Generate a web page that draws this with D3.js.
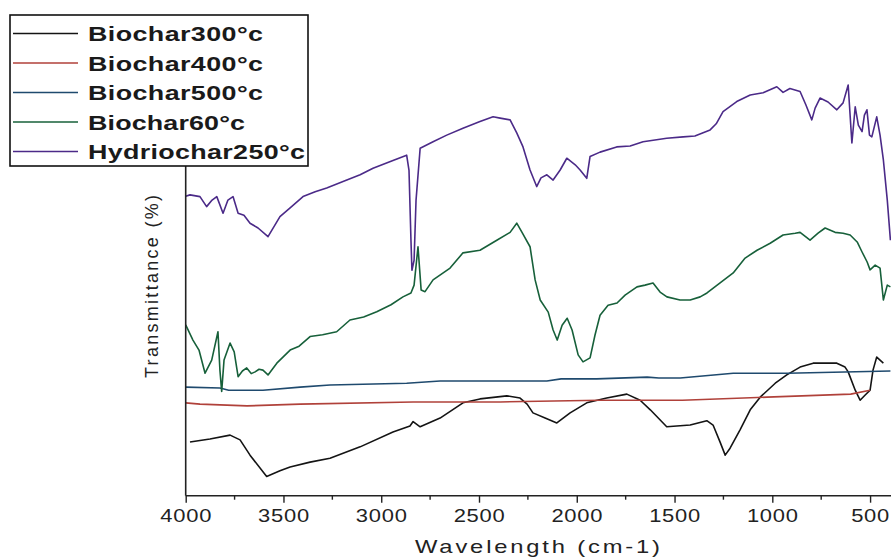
<!DOCTYPE html>
<html>
<head>
<meta charset="utf-8">
<script src="https://cdn.jsdelivr.net/npm/d3@7"></script>
<style>
  body { margin: 0; background: #fff; }
  svg { display: block; font-family: "Liberation Sans", Arial, sans-serif; }
</style>
</head>
<body>
<svg id="chart" width="891" height="560"></svg>
<script>
// FTIR spectra, wavenumber (cm-1) vs transmittance (arbitrary %, offset per series)
const seriesNames = ["Biochar300\u00b0c", "Biochar400\u00b0c", "Biochar500\u00b0c", "Biochar60\u00b0c", "Hydriochar250\u00b0c"];
const seriesColors = ["#141414", "#b0413a", "#1f4a6e", "#17603a", "#4b2a88"];

const biochar300 = [
  [3978,12.3],[3876,13.0],[3773,13.9],[3722,12.8],[3671,9.3],[3586,4.4],[3518,5.7],[3466,6.6],
  [3364,7.7],[3262,8.6],[3108,11.2],[2940,14.6],[2853,16.0],[2837,17.0],[2801,15.8],[2699,17.8],
  [2582,21.3],[2495,22.2],[2358,22.9],[2290,22.4],[2254,21.0],[2224,19.0],[2162,17.8],[2102,16.7],
  [2034,19.0],[1949,21.3],[1847,22.4],[1744,23.3],[1676,21.9],[1624,19.7],[1540,15.8],[1420,16.2],
  [1335,17.2],[1303,16.2],[1267,12.3],[1241,9.3],[1216,10.9],[1165,15.1],[1113,19.7],[1062,22.6],
  [985,25.8],[926,27.7],[858,29.5],[791,30.4],[670,30.4],[628,29.5],[612,28.4],[576,24.2],
  [551,21.9],[525,23.1],[500,24.2],[485,28.8],[466,31.8],[449,31.1],[432,30.4]
];
const biochar400 = [
  [4000,21.3],[3927,21.0],[3686,20.6],[3415,21.0],[2837,21.5],[2392,21.5],[1881,21.9],
  [1460,21.9],[1027,22.6],[599,23.3],[500,24.2]
];
const biochar500 = [
  [4000,24.9],[3825,24.7],[3780,24.2],[3605,24.2],[3415,24.9],[3262,25.4],[2870,25.8],[2699,26.3],
  [2153,26.3],[2080,26.8],[1898,26.8],[1640,27.2],[1580,27.0],[1471,27.0],[1200,28.1],[924,28.1],[396,28.6]
];
const biochar60 = [
  [4000,39.2],[3963,35.7],[3932,33.4],[3901,28.1],[3867,31.1],[3835,37.6],[3825,28.8],[3816,23.9],
  [3804,31.1],[3773,35.0],[3752,33.0],[3732,27.3],[3710,28.6],[3688,29.3],[3665,28.0],[3645,28.4],
  [3625,29.0],[3605,28.8],[3579,27.7],[3534,30.4],[3500,31.9],
  [3466,33.4],[3420,34.3],[3364,36.5],[3300,36.9],[3228,37.6],[3160,40.3],[3090,41.0],[3023,42.2],
  [2950,43.8],[2889,45.6],[2848,46.5],[2832,48.3],
  [2812,57.1],[2796,47.2],[2776,46.8],[2735,49.5],[2648,52.2],[2582,55.7],[2495,56.3],[2409,58.6],
  [2341,60.4],[2307,62.5],[2280,60.4],[2239,57.1],[2213,49.5],[2187,44.9],[2146,42.1],[2121,38.0],
  [2100,35.7],[2075,39.1],[2049,40.7],[2024,38.0],[1993,32.3],[1968,30.7],[1932,31.6],[1907,36.8],
  [1881,41.4],[1840,43.7],[1794,44.2],[1753,46.0],[1692,47.9],[1651,48.3],[1610,48.8],[1574,46.7],
  [1539,45.6],[1472,44.9],[1420,44.9],[1369,45.6],[1334,46.5],[1267,48.8],[1200,51.1],[1139,54.5],
  [1078,56.3],[1011,57.9],[945,59.8],[883,60.2],[858,60.4],[807,58.6],[766,60.2],[730,61.4],
  [679,60.4],[638,60.2],[602,59.8],[566,58.2],[541,55.9],[515,53.6],[500,51.8],[474,52.9],
  [449,52.2],[432,44.9],[412,48.3],[396,47.9]
];
const hydrochar250 = [
  [4000,68.7],[3978,69.0],[3927,68.6],[3893,66.3],[3865,67.8],[3841,68.6],[3809,64.8],[3784,67.8],
  [3758,68.6],[3732,64.8],[3702,64.3],[3671,62.5],[3630,61.4],[3579,59.4],[3518,64.0],[3466,66.0],
  [3400,68.6],[3338,69.7],[3279,70.6],[3176,72.4],[3108,73.6],[3042,75.1],[2940,76.9],[2870,78.1],
  [2858,74.6],[2848,58.6],[2843,51.7],[2832,54.0],[2822,67.8],[2801,79.7],[2735,81.2],[2665,82.7],
  [2582,84.3],[2495,85.8],[2428,86.9],[2392,86.6],[2341,86.2],[2307,83.2],[2275,80.0],[2239,74.7],
  [2205,70.9],[2183,72.9],[2153,73.6],[2121,72.4],[2085,74.7],[2051,77.4],[2008,75.9],[1983,74.7],
  [1949,72.8],[1932,77.8],[1881,78.8],[1796,80.0],[1727,80.2],[1661,81.2],[1540,82.0],[1456,82.3],
  [1396,82.5],[1318,83.9],[1287,85.3],[1252,88.1],[1182,90.4],[1113,91.9],[1047,92.4],[977,93.8],
  [945,92.5],[910,93.4],[858,92.7],[828,89.6],[798,86.2],[781,88.9],[756,91.2],[715,90.3],
  [670,88.5],[638,90.1],[612,94.2],[593,80.9],[576,89.2],[560,85.0],[541,83.5],[529,87.3],
  [516,88.5],[503,82.7],[491,82.3],[466,86.9],[449,82.7],[432,77.0],[412,67.8],[396,58.6]
];
const allSeries = [biochar300, biochar400, biochar500, biochar60, hydrochar250];

const majorTicks = [4000, 3500, 3000, 2500, 2000, 1500, 1000, 500];
const minorTicks = [3750, 3250, 2750, 2250, 1750, 1250, 750];

const svg = d3.select("#chart");
const x = d3.scaleLinear().domain([4000, 393]).range([185.7, 891]);
const y = d3.scaleLinear().domain([0, 100]).range([495.7, 59.7]);

// spectra
const line = d3.line().x(d => x(d[0])).y(d => y(d[1]));
svg.append("g").selectAll("path")
  .data(allSeries)
  .join("path")
  .attr("d", line)
  .attr("fill", "none")
  .attr("stroke", (d, i) => seriesColors[i])
  .attr("stroke-width", 1.6)
  .attr("stroke-linejoin", "round");

// x axis
const xAxis = svg.append("g").attr("transform", `translate(0,${y(0)})`);
xAxis.call(d3.axisBottom(x).tickValues(majorTicks).tickSize(7).tickPadding(7).tickFormat(d3.format("d")));
xAxis.select(".domain").attr("d", `M${x(4000)},0H891`).attr("stroke", "#222").attr("stroke-width", 1.6);
xAxis.selectAll(".tick line").attr("stroke", "#222").attr("stroke-width", 1.4);
xAxis.selectAll(".tick text")
  .attr("font-size", 18).attr("fill", "#222")
  .attr("transform", "scale(1.22,1)")
  .style("letter-spacing", "0.6px");
xAxis.selectAll("line.minor")
  .data(minorTicks)
  .join("line")
  .attr("class", "minor")
  .attr("x1", d => x(d)).attr("x2", d => x(d))
  .attr("y1", 0).attr("y2", 4)
  .attr("stroke", "#222").attr("stroke-width", 1.4);

// y axis (no ticks)
svg.append("line")
  .attr("x1", x(4000)).attr("x2", x(4000))
  .attr("y1", y(100)).attr("y2", y(0))
  .attr("stroke", "#222").attr("stroke-width", 1.6);

// axis titles
svg.append("text")
  .attr("transform", "translate(537.5,553) scale(1.25,1)")
  .attr("text-anchor", "middle")
  .attr("font-size", 19).attr("fill", "#222")
  .attr("textLength", 196).attr("lengthAdjust", "spacing")
  .text("Wavelength (cm-1)");

svg.append("text")
  .attr("transform", "translate(157.5,286.5) rotate(-90)")
  .attr("text-anchor", "middle")
  .attr("font-size", 18).attr("fill", "#222")
  .attr("textLength", 183).attr("lengthAdjust", "spacing")
  .text("Transmittance (%)");

// legend
const legendWidths = [175, 175, 175, 157, 217];
const stretch = 1.28;
const legend = svg.append("g");
legend.append("rect")
  .attr("x", 10).attr("y", 15).attr("width", 298).attr("height", 151)
  .attr("fill", "#fff").attr("stroke", "#111").attr("stroke-width", 1.6);
const rows = legend.selectAll("g.row")
  .data(seriesNames)
  .join("g")
  .attr("class", "row")
  .attr("transform", (d, i) => `translate(0,${33.5 + i * 29.5})`);
rows.append("line")
  .attr("x1", 13).attr("x2", 78).attr("y1", 0).attr("y2", 0)
  .attr("stroke", (d, i) => seriesColors[i]).attr("stroke-width", 1.6);
rows.append("text")
  .attr("transform", `translate(88,7.5) scale(${stretch},1)`)
  .attr("font-size", 21).attr("font-weight", "bold").attr("fill", "#1a1a1a")
  .attr("textLength", (d, i) => legendWidths[i] / stretch).attr("lengthAdjust", "spacing")
  .text(d => d);
</script>
</body>
</html>
